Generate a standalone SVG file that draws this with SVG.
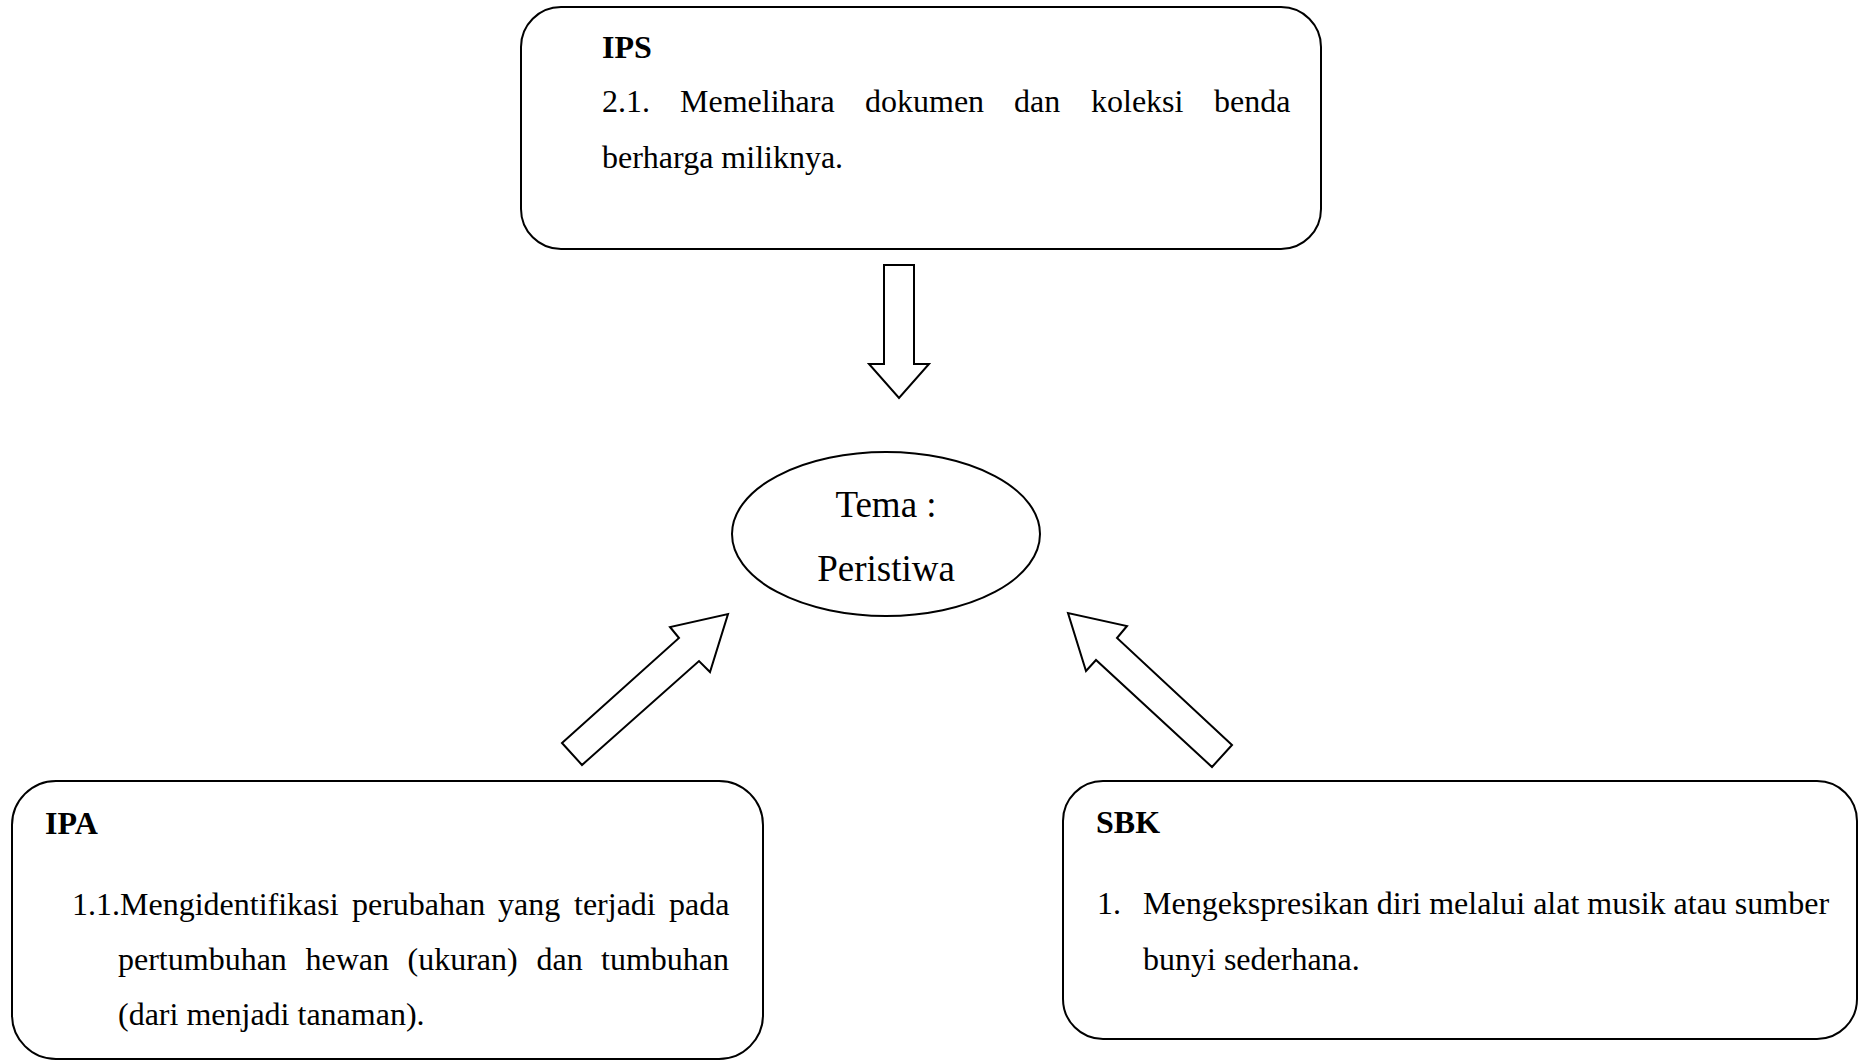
<svg xmlns="http://www.w3.org/2000/svg" width="1858" height="1062" viewBox="0 0 1858 1062">
<style>
.box{fill:#fff;stroke:#000;stroke-width:2}
.arr{fill:#fff;stroke:#000;stroke-width:2;stroke-linejoin:miter}
.t{font-family:"Liberation Serif","Times New Roman",serif;font-size:32px;fill:#000}
.h{font-family:"Liberation Serif","Times New Roman",serif;font-size:32px;font-weight:bold;fill:#000}
.c{font-family:"Liberation Serif","Times New Roman",serif;font-size:37px;fill:#000;text-anchor:middle}
</style>
<rect width="1858" height="1062" fill="#fff"/>
<g id="connectors">
<polygon class="arr" points="884,265 914,265 914,364 929,364 899,398 869,364 884,364"/>
<polygon class="arr" points="562,743 679,638 670,627 728,614 710,672 699,661 582,765"/>
<polygon class="arr" points="1232,745 1117,638 1127,626 1068,613 1086,671 1096,660 1212,767"/>
</g>
<g id="ips">
<rect class="box" x="521" y="7" width="800" height="242" rx="40" ry="40"/>
<text class="h" x="602" y="58">IPS</text>
<text class="t" y="112"><tspan x="602">2.1.</tspan><tspan x="680">Memelihara</tspan><tspan x="865">dokumen</tspan><tspan x="1014">dan</tspan><tspan x="1091">koleksi</tspan><tspan x="1214">benda</tspan></text>
<text class="t" x="602" y="168">berharga miliknya.</text>
</g>
<g id="tema">
<ellipse class="box" cx="886" cy="534" rx="154" ry="82"/>
<text class="c" x="886" y="517">Tema :</text>
<text class="c" x="886" y="581">Peristiwa</text>
</g>
<g id="ipa">
<rect class="box" x="12" y="781" width="751" height="278" rx="44" ry="44"/>
<text class="h" x="45" y="834">IPA</text>
<text class="t" y="915"><tspan x="72">1.1.Mengidentifikasi</tspan><tspan x="352">perubahan</tspan><tspan x="498">yang</tspan><tspan x="574">terjadi</tspan><tspan x="669">pada</tspan></text>
<text class="t" y="970"><tspan x="118">pertumbuhan</tspan><tspan x="305.5">hewan</tspan><tspan x="407.5">(ukuran)</tspan><tspan x="536.5">dan</tspan><tspan x="601">tumbuhan</tspan></text>
<text class="t" x="118" y="1025">(dari menjadi tanaman).</text>
</g>
<g id="sbk">
<rect class="box" x="1063" y="781" width="794" height="258" rx="40" ry="40"/>
<text class="h" x="1096" y="833">SBK</text>
<text class="t" y="914"><tspan x="1097">1.</tspan><tspan x="1143">Mengekspresikan diri melalui alat musik atau sumber</tspan></text>
<text class="t" x="1143" y="970">bunyi sederhana.</text>
</g>
</svg>
